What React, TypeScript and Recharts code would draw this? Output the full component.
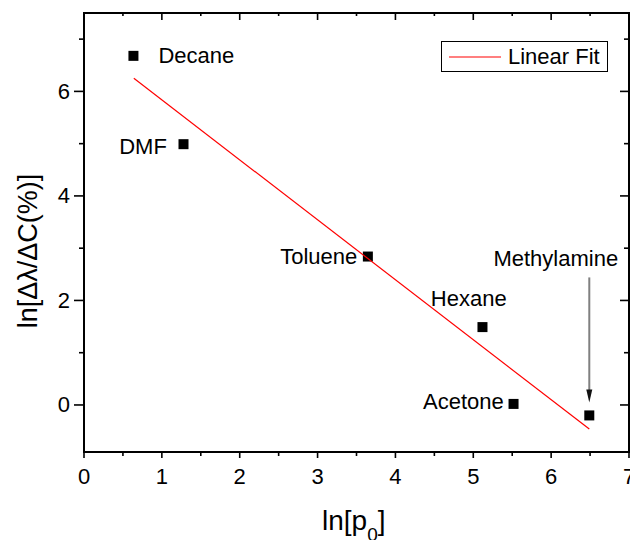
import React from 'react';
import { ScatterChart, Scatter, XAxis, YAxis, Legend } from 'recharts';

// ---- data ----
const solvents = ['Decane', 'DMF', 'Toluene', 'Hexane', 'Acetone', 'Methylamine'];
const lnP0 = [0.635, 1.278, 3.646, 5.118, 5.517, 6.49];
const lnResponse = [6.68, 4.99, 2.84, 1.49, 0.02, -0.2];
const fitX = [0.64, 6.49];
const fitY = [6.25, -0.46];
const xTicks = [0, 0.5, 1, 1.5, 2, 2.5, 3, 3.5, 4, 4.5, 5, 5.5, 6, 6.5, 7];
const yTicks = [0, 1, 2, 3, 4, 5, 6, 7];
const xDomain = [0, 7];
const yDomain = [-0.9, 7.5];
const legendLabel = 'Linear Fit';
const xTitle = 'ln[p';
const xTitleSub = '0';
const yTitle = 'ln[Δλ/ΔC(%)]';
const arrowTarget = 'Methylamine';

const points = solvents.map((name, i) => ({ name, x: lnP0[i], y: lnResponse[i] }));
const fitLine = fitX.map((x, i) => ({ x, y: fitY[i] }));

// ---- label placement (layout, not data) ----
const labelPlacement: Record<string, { dx: number; dy: number; anchor: 'start' | 'middle' | 'end' }> = {
  Decane: { dx: 25, dy: 7.3, anchor: 'start' },
  DMF: { dx: -16.6, dy: 9.4, anchor: 'end' },
  Toluene: { dx: -10.6, dy: 7.5, anchor: 'end' },
  Hexane: { dx: -13.7, dy: -20.7, anchor: 'middle' },
  Acetone: { dx: -9.7, dy: 5.3, anchor: 'end' },
  Methylamine: { dx: -33.5, dy: -149.6, anchor: 'middle' },
};

const FONT = '"Liberation Sans", Arial, "DejaVu Sans", sans-serif';
const TICK_FS = 22;
const LABEL_FS = 22;
const TITLE_FS = 28;

const PointShape = (props: any) => {
  const { cx, cy, payload } = props;
  if (cx == null || cy == null) return <g />;
  const pl = labelPlacement[payload.name];
  const s = 10;
  return (
    <g>
      <rect x={cx - s / 2} y={cy - s / 2} width={s} height={s} fill="#000" />
      {pl && (
        <text
          x={cx + pl.dx}
          y={cy + pl.dy}
          textAnchor={pl.anchor}
          fontSize={LABEL_FS}
          fontFamily={FONT}
          fill="#000"
        >
          {payload.name}
        </text>
      )}
      {payload.name === arrowTarget && (
        <g>
          <line x1={cx} y1={cy - 138} x2={cx} y2={cy - 24} stroke="#808080" strokeWidth={2} />
          <polygon
            points={`${cx},${cy - 13} ${cx - 3},${cy - 26} ${cx + 3},${cy - 26}`}
            fill="#111"
          />
        </g>
      )}
    </g>
  );
};

const BottomTick = (props: any) => {
  const { x, y, payload } = props;
  const v = payload.value;
  const major = Number.isInteger(v);
  return (
    <g>
      <line x1={x} y1={y} x2={x} y2={y + (major ? 6 : 4)} stroke="#000" strokeWidth={1.6} />
      {major && (
        <text x={x} y={y + 32} textAnchor="middle" fontSize={TICK_FS} fontFamily={FONT} fill="#000">
          {v}
        </text>
      )}
    </g>
  );
};

const TopTick = (props: any) => {
  const { x, y, payload } = props;
  const major = Number.isInteger(payload.value);
  return <line x1={x} y1={y} x2={x} y2={y + (major ? 7 : 3)} stroke="#000" strokeWidth={1.6} />;
};

const LeftTick = (props: any) => {
  const { x, y, payload } = props;
  const v = payload.value;
  const major = v % 2 === 0;
  return (
    <g>
      <line x1={x} y1={y} x2={x - (major ? 10 : 5)} y2={y} stroke="#000" strokeWidth={1.6} />
      {major && (
        <text x={x - 14} y={y + 7.5} textAnchor="end" fontSize={TICK_FS} fontFamily={FONT} fill="#000">
          {v}
        </text>
      )}
    </g>
  );
};

const RightTick = (props: any) => {
  const { x, y, payload } = props;
  const major = payload.value % 2 === 0;
  return <line x1={x} y1={y} x2={x - (major ? 9 : 5)} y2={y} stroke="#000" strokeWidth={1.6} />;
};

const LegendBox = () => (
  <div
    style={{
      width: 167,
      height: 31,
      boxSizing: 'border-box',
      border: '1px solid #000',
      background: '#fff',
      position: 'relative',
      fontFamily: FONT,
    }}
  >
    <svg width={60} height={29} style={{ position: 'absolute', left: 0, top: 0 }}>
      <line x1={7} y1={15} x2={59} y2={15} stroke="#ff0000" strokeWidth={1.2} />
    </svg>
    <span
      style={{
        position: 'absolute',
        left: 66,
        top: 1,
        fontSize: LABEL_FS,
        lineHeight: '27px',
        color: '#000',
        whiteSpace: 'nowrap',
      }}
    >
      {legendLabel}
    </span>
  </div>
);

const axisLineStyle = { stroke: '#000', strokeWidth: 2, strokeLinecap: 'square' as const };

export default function App() {
  return (
    <div style={{ position: 'absolute', left: 0, top: 0, width: 630, height: 540, background: '#fff' }}>
      <ScatterChart
        width={630}
        height={540}
        margin={{ top: 12, right: 0, bottom: 87, left: 83 }}
        style={{ fontFamily: FONT }}
      >
        <XAxis
          xAxisId="b"
          type="number"
          dataKey="x"
          orientation="bottom"
          domain={xDomain}
          ticks={xTicks}
          interval={0}
          allowDataOverflow
          height={1}
          tickSize={0}
          tickMargin={0}
          tickLine={false}
          axisLine={axisLineStyle}
          tick={(p: any) => <BottomTick {...p} />}
          label={{
            content: () => (
              <text x={322} y={530} fontSize={TITLE_FS} fontFamily={FONT} fill="#000">
                {xTitle}
                <tspan fontSize={19} dy={11}>
                  {xTitleSub}
                </tspan>
                <tspan dy={-11}>]</tspan>
              </text>
            ),
          }}
        />
        <XAxis
          xAxisId="t"
          type="number"
          dataKey="x"
          orientation="top"
          domain={xDomain}
          ticks={xTicks}
          interval={0}
          allowDataOverflow
          height={1}
          tickSize={0}
          tickMargin={0}
          tickLine={false}
          axisLine={axisLineStyle}
          tick={(p: any) => <TopTick {...p} />}
        />
        <YAxis
          yAxisId="l"
          type="number"
          dataKey="y"
          orientation="left"
          domain={yDomain}
          ticks={yTicks}
          interval={0}
          allowDataOverflow
          width={1}
          tickSize={0}
          tickMargin={0}
          tickLine={false}
          axisLine={axisLineStyle}
          tick={(p: any) => <LeftTick {...p} />}
          label={{
            content: () => (
              <text
                x={0}
                y={0}
                transform="translate(37,251) rotate(-90)"
                textAnchor="middle"
                fontSize={27}
                fontFamily={FONT}
                fill="#000"
              >
                {yTitle}
              </text>
            ),
          }}
        />
        <YAxis
          yAxisId="r"
          type="number"
          dataKey="y"
          orientation="right"
          domain={yDomain}
          ticks={yTicks}
          interval={0}
          allowDataOverflow
          width={1}
          tickSize={0}
          tickMargin={0}
          tickLine={false}
          axisLine={axisLineStyle}
          tick={(p: any) => <RightTick {...p} />}
        />
        <Scatter
          name="points"
          data={points}
          xAxisId="b"
          yAxisId="l"
          shape={(p: any) => <PointShape {...p} />}
          isAnimationActive={false}
          legendType="none"
        />
        <Scatter
          name={legendLabel}
          data={fitLine}
          xAxisId="b"
          yAxisId="l"
          line={{ stroke: '#ff0000', strokeWidth: 1.2 }}
          lineType="joint"
          shape={() => <g />}
          isAnimationActive={false}
        />
        <Legend
          layout="horizontal"
          verticalAlign="middle"
          align="center"
          wrapperStyle={{ top: 41, left: 441, width: 167, height: 31 }}
          content={() => <LegendBox />}
        />
      </ScatterChart>
    </div>
  );
}
